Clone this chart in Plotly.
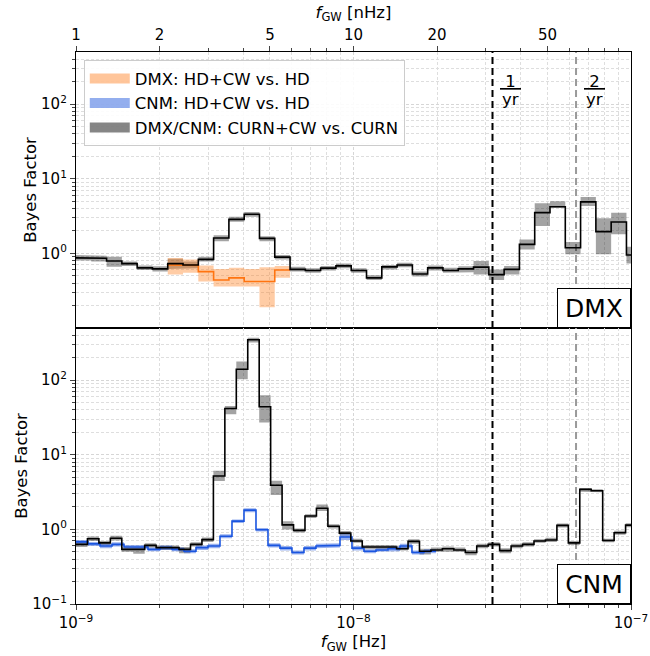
import numpy as np
import plotly.graph_objects as go

# ---------------- data ----------------
# frequency binning (log10 Hz): start and bin widths
LOG_F0 = -9.0
DMX_BIN_DEX = 0.0551      # CURN+CW / HD+CW bins in DMX panel
CNM_CURN_BIN_DEX = 0.04126
CNM_HD_BIN_DEX = 0.04324

# DMX: CURN+CW vs CURN (black)
dmx_curn = [0.87, 0.86, 0.79, 0.73, 0.64, 0.62, 0.73, 0.70, 0.83, 1.61, 2.86, 3.34, 1.59,
            0.89, 0.61, 0.59, 0.635, 0.68, 0.59, 0.47, 0.66, 0.70, 0.53, 0.64, 0.59, 0.62,
            0.655, 0.52, 0.61, 1.32, 3.52, 4.21, 1.19, 4.90, 1.96, 2.63, 0.95]
dmx_curn_lo = [0.80, 0.78, 0.66, 0.68, 0.60, 0.57, 0.62, 0.63, 0.78, 1.45, 2.65, 3.10, 1.45,
               0.83, 0.57, 0.55, 0.59, 0.63, 0.55, 0.44, 0.61, 0.65, 0.49, 0.59, 0.55, 0.56,
               0.52, 0.44, 0.52, 1.13, 2.33, 4.10, 0.97, 4.30, 0.97, 1.80, 0.73]
dmx_curn_hi = [0.95, 0.93, 0.90, 0.78, 0.69, 0.67, 0.85, 0.78, 0.90, 1.75, 3.10, 3.60, 1.70,
               0.95, 0.66, 0.63, 0.68, 0.73, 0.63, 0.51, 0.70, 0.75, 0.57, 0.69, 0.64, 0.67,
               0.79, 0.61, 0.68, 1.54, 4.70, 5.00, 1.42, 5.70, 2.95, 3.50, 1.23]
# DMX: HD+CW vs HD (orange), bins 6..13 of the DMX binning
DMX_HD_FIRST_BIN = 6
dmx_hd = [0.70, 0.69, 0.57, 0.44, 0.47, 0.42, 0.42, 0.60]
dmx_hd_lo = [0.52, 0.55, 0.42, 0.36, 0.36, 0.36, 0.19, 0.47]
dmx_hd_hi = [0.87, 0.83, 0.69, 0.62, 0.64, 0.62, 0.65, 0.68]

# CNM: CURN+CW vs CURN (black)
cnm_curn = [0.63, 0.75, 0.66, 0.76, 0.54, 0.54, 0.61, 0.57, 0.57, 0.54, 0.63, 0.73, 5.2, 41.7,
            140, 348, 44, 3.9, 1.15, 0.97, 1.51, 1.92, 1.10, 0.89, 0.70, 0.58, 0.59, 0.58,
            0.55, 0.69, 0.51, 0.53, 0.55, 0.53, 0.49, 0.60, 0.63, 0.52, 0.60, 0.63, 0.70,
            0.72, 1.13, 0.66, 3.44, 3.30, 0.71, 0.90, 1.14]
cnm_curn_lo = [0.58, 0.70, 0.62, 0.71, 0.50, 0.47, 0.57, 0.53, 0.53, 0.48, 0.59, 0.68, 4.45, 35,
               103, 320, 27, 2.9, 1.0, 0.91, 1.42, 1.76, 1.03, 0.83, 0.66, 0.55, 0.55, 0.54,
               0.52, 0.64, 0.46, 0.50, 0.51, 0.50, 0.45, 0.56, 0.59, 0.48, 0.56, 0.59, 0.66,
               0.68, 1.06, 0.62, 3.20, 3.15, 0.67, 0.85, 1.07]
cnm_curn_hi = [0.68, 0.80, 0.70, 0.82, 0.58, 0.58, 0.65, 0.61, 0.61, 0.58, 0.67, 0.78, 6.1, 45,
               178, 370, 63, 4.5, 1.29, 1.03, 1.60, 2.16, 1.17, 0.95, 0.75, 0.62, 0.63, 0.62,
               0.59, 0.74, 0.55, 0.57, 0.59, 0.57, 0.53, 0.64, 0.67, 0.56, 0.64, 0.67, 0.74,
               0.77, 1.20, 0.70, 3.60, 3.45, 0.75, 0.96, 1.21]
# CNM: HD+CW vs HD (blue)
cnm_hd = [0.68, 0.64, 0.60, 0.63, 0.585, 0.58, 0.54, 0.57, 0.54, 0.51, 0.57, 0.60, 0.81, 1.29,
          1.81, 0.99, 0.61, 0.56, 0.49, 0.56, 0.60, 0.61, 0.79, 0.56, 0.51, 0.53, 0.55, 0.60,
          0.49, 0.51]
cnm_hd_lo = [0.64, 0.60, 0.56, 0.59, 0.55, 0.54, 0.51, 0.53, 0.51, 0.48, 0.53, 0.56, 0.76, 1.22,
             1.70, 0.94, 0.57, 0.52, 0.46, 0.52, 0.56, 0.57, 0.72, 0.52, 0.48, 0.50, 0.51, 0.56,
             0.46, 0.48]
cnm_hd_hi = [0.72, 0.68, 0.64, 0.67, 0.62, 0.62, 0.57, 0.61, 0.57, 0.54, 0.61, 0.64, 0.86, 1.36,
             1.92, 1.04, 0.65, 0.60, 0.52, 0.60, 0.64, 0.65, 0.86, 0.60, 0.54, 0.56, 0.59, 0.64,
             0.52, 0.54]

YEAR_S = 365.25 * 86400.0
f_1yr = 1.0 / YEAR_S
f_2yr = 2.0 / YEAR_S

x_major = [1e-9, 1e-8, 1e-7]
x_major_text = ["10<sup>\u22129</sup>", "10<sup>\u22128</sup>", "10<sup>\u22127</sup>"]
nhz_ticks = [1, 2, 5, 10, 20, 50]
nhz_minor = [3, 4, 6, 7, 8, 9, 30, 40, 60, 70, 80, 90]
y_top_ticks = [1, 10, 100]
y_top_text = ["10<sup>0</sup>", "10<sup>1</sup>", "10<sup>2</sup>"]
y_bot_ticks = [0.1, 1, 10, 100]
y_bot_text = ["10<sup>\u22121</sup>", "10<sup>0</sup>", "10<sup>1</sup>", "10<sup>2</sup>"]
Y_RANGE = [0.1, 500]
legend_names = ["DMX: HD+CW vs. HD", "CNM: HD+CW vs. HD", "DMX/CNM: CURN+CW vs. CURN"]

# ---------------- helpers ----------------
def edges(n, dex, first=0):
    return 10 ** (LOG_F0 + dex * np.arange(first, first + n + 1))

def step_xy(e, v):
    x = np.repeat(e, 2)[1:-1]
    y = np.repeat(np.asarray(v, float), 2)
    return x, y

def band_xy(e, lo, hi):
    x, ylo = step_xy(e, lo)
    _, yhi = step_xy(e, hi)
    return np.concatenate([x, x[::-1]]), np.concatenate([yhi, ylo[::-1]])

minor_x = [m * 10 ** k for k in (-9, -8) for m in range(2, 10)]
minor_y = [m * 10 ** k for k in (-1, 0, 1, 2) for m in range(2, 10) if m * 10 ** k < 500]

ORANGE = "#ff7410"
ORANGE_BAND = "rgba(255,127,30,0.40)"
BLUE = "#1a55e0"
BLUE_BAND = "rgba(30,85,220,0.45)"
GRAY_BAND = "rgba(0,0,0,0.36)"
LEG_COLORS = ["rgba(255,127,30,0.45)", "rgba(30,85,220,0.48)", "rgba(0,0,0,0.48)"]

fig = go.Figure()

e_dmx = edges(len(dmx_curn), DMX_BIN_DEX)
e_dmx_hd = edges(len(dmx_hd), DMX_BIN_DEX, DMX_HD_FIRST_BIN)
e_cc = edges(len(cnm_curn), CNM_CURN_BIN_DEX)
e_ch = edges(len(cnm_hd), CNM_HD_BIN_DEX)

# vertical reference lines
for xa, ya in (("x", "y"), ("x2", "y2")):
    fig.add_trace(go.Scatter(x=[f_1yr, f_1yr], y=Y_RANGE, mode="lines", xaxis=xa, yaxis=ya,
                             line=dict(color="black", width=2, dash="7px,4px"),
                             showlegend=False, hoverinfo="skip"))
    fig.add_trace(go.Scatter(x=[f_2yr, f_2yr], y=Y_RANGE, mode="lines", xaxis=xa, yaxis=ya,
                             line=dict(color="#9a9a9a", width=2, dash="7px,4px"),
                             showlegend=False, hoverinfo="skip"))

# bands
for e, lo, hi, col, xa, ya in (
        (e_dmx, dmx_curn_lo, dmx_curn_hi, GRAY_BAND, "x", "y"),
        (e_dmx_hd, dmx_hd_lo, dmx_hd_hi, ORANGE_BAND, "x", "y"),
        (e_cc, cnm_curn_lo, cnm_curn_hi, GRAY_BAND, "x2", "y2"),
        (e_ch, cnm_hd_lo, cnm_hd_hi, BLUE_BAND, "x2", "y2")):
    bx, by = band_xy(e, lo, hi)
    fig.add_trace(go.Scatter(x=bx, y=by, fill="toself", fillcolor=col, line=dict(width=0),
                             mode="lines", showlegend=False, xaxis=xa, yaxis=ya,
                             hoverinfo="skip"))

# step lines
for e, v, col, xa, ya in ((e_dmx_hd, dmx_hd, ORANGE, "x", "y"),
                          (e_dmx, dmx_curn, "black", "x", "y"),
                          (e_ch, cnm_hd, BLUE, "x2", "y2"),
                          (e_cc, cnm_curn, "black", "x2", "y2")):
    sx, sy = step_xy(e, v)
    fig.add_trace(go.Scatter(x=sx, y=sy, mode="lines", line=dict(color=col, width=1.6),
                             showlegend=False, xaxis=xa, yaxis=ya))

# legend patches
for i, (nm, col) in enumerate(zip(legend_names, LEG_COLORS)):
    fig.add_trace(go.Scatter(x=[None], y=[None], mode="lines", line=dict(color=col, width=15),
                             name=nm, legendrank=i + 1, xaxis="x", yaxis="y"))

# invisible trace for the nHz axis
fig.add_trace(go.Scatter(x=[1, 100], y=[1, 1], mode="markers", marker=dict(opacity=0),
                         xaxis="x3", yaxis="y", showlegend=False, hoverinfo="skip"))

FONT = "DejaVu Sans"
LAB = 16.5
TICK = 15
GRID = dict(showgrid=True, gridcolor="#d6d6d6", griddash="3px,2px", gridwidth=0.8)
MINOR_GRID = dict(showgrid=True, gridcolor="#dedede", griddash="3px,2px", gridwidth=0.8)
log_yr = [np.log10(Y_RANGE[0]), np.log10(Y_RANGE[1])]

common_x = dict(type="log", range=[-9, -7], showline=True, linecolor="black", linewidth=1.3,
                mirror=True, zeroline=False, automargin=False,
                tickfont=dict(size=TICK, color="black"), **GRID)
common_y = dict(type="log", range=log_yr, showline=True, linecolor="black", linewidth=1.3,
                mirror=True, zeroline=False, automargin=False, ticks="outside", ticklen=5,
                tickfont=dict(size=TICK),
                minor=dict(tickvals=minor_y, ticks="outside", ticklen=3, **MINOR_GRID),
                title=dict(text="Bayes Factor", font=dict(size=LAB), standoff=0), **GRID)

fig.update_layout(
    width=650, height=656,
    margin=dict(l=76, r=19, t=52, b=52),
    paper_bgcolor="white", plot_bgcolor="white",
    font=dict(family=FONT, size=TICK, color="black"),
    xaxis=dict(domain=[0, 1], anchor="y", showticklabels=False, ticks="",
               tickvals=x_major,
               minor=dict(tickvals=minor_x, ticks="", **MINOR_GRID), **common_x),
    xaxis2=dict(domain=[0, 1], anchor="y2", matches="x", ticks="outside", ticklen=5,
                tickvals=x_major, ticktext=x_major_text,
                minor=dict(tickvals=minor_x, ticks="outside", ticklen=3, **MINOR_GRID),
                title=dict(text="<i>f</i><sub>GW</sub> [Hz]", font=dict(size=LAB), standoff=1),
                **common_x),
    xaxis3=dict(type="log", range=[0, 2], overlaying="x", anchor="y", side="top",
                showgrid=False, zeroline=False, showline=True, linecolor="black", linewidth=1.3,
                automargin=False, ticks="outside", ticklen=5, tickvals=nhz_ticks,
                ticktext=[str(v) for v in nhz_ticks], tickfont=dict(size=TICK),
                minor=dict(tickvals=nhz_minor, ticks="outside", ticklen=3, showgrid=False),
                title=dict(text="<i>f</i><sub>GW</sub> [nHz]", font=dict(size=LAB), standoff=3)),
    yaxis=dict(domain=[0.5, 1], anchor="x", tickvals=y_top_ticks, ticktext=y_top_text, **common_y),
    yaxis2=dict(domain=[0, 0.5], anchor="x2", tickvals=y_bot_ticks, ticktext=y_bot_text, **common_y),
    legend=dict(x=0.014, y=0.985, xanchor="left", yanchor="top", bgcolor="rgba(255,255,255,0.9)",
                bordercolor="#cccccc", borderwidth=1, font=dict(size=LAB), itemwidth=40,
                tracegroupgap=0),
    showlegend=True,
)

# 1/yr, 2/yr labels (fraction: numerator with bar, denominator below)
for fval, num in ((f_1yr, "1"), (f_2yr, "2")):
    fig.add_annotation(x=np.log10(fval), y=0.968, xref="x", yref="paper", xshift=18,
                       yanchor="top", text="<u>\u00a0" + num + "\u00a0</u>", showarrow=False,
                       font=dict(size=LAB, color="black"))
    fig.add_annotation(x=np.log10(fval), y=0.914, xref="x", yref="paper", xshift=18,
                       yanchor="middle", text="yr", showarrow=False,
                       font=dict(size=LAB, color="black"))

# panel labels
for label, ypos in (("DMX", 0.5), ("CNM", 0.0)):
    fig.add_annotation(x=1, y=ypos, xref="paper", yref="paper", xanchor="right",
                       yanchor="bottom", text=label, showarrow=False,
                       font=dict(size=25, color="black"), bgcolor="white",
                       bordercolor="black", borderwidth=1, borderpad=4, width=64, height=30)

fig.write_html("out.html")
